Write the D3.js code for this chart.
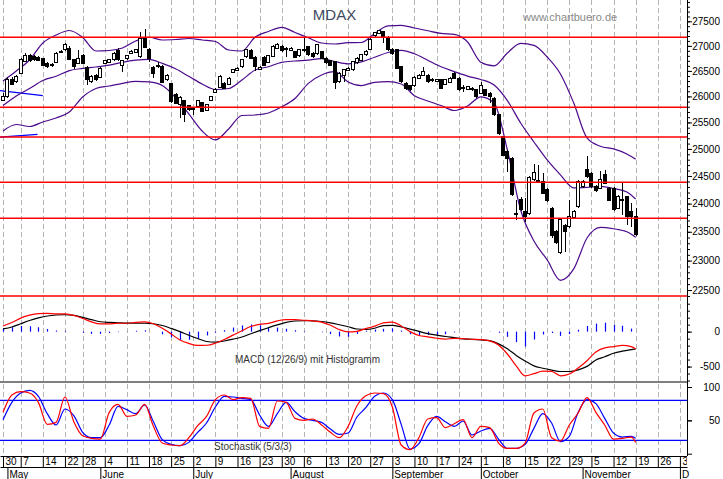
<!DOCTYPE html>
<html lang="en">
<head>
<meta charset="UTF-8">
<title>MDAX</title>
<script src="https://d3js.org/d3.v7.min.js"></script>
<style>
  body { margin: 0; background: #fff; }
  svg { display: block; font-family: "Liberation Sans", Arial, sans-serif; }
  .grid line { stroke: #b4b4b4; stroke-dasharray: 5,3; }
  .axis text { font-size: 10px; fill: #000; }
  .axis line, .axis path { stroke: #000; }
</style>
</head>
<body>
<script>
// trading calendar (Xetra days shown on the chart)
const firstDay = new Date(2018, 3, 30);
const holidays = ["2018-05-01", "2018-05-21"];
const dayCount = 155;
const monthNames = ["January", "February", "March", "April", "May", "June", "July",
  "August", "September", "October", "November", "December"];

// daily candles, 30 Apr - 19 Nov 2018
const open = [
  25930, 25991, 26340, 26287, 26453, 26685, 26797, 26783, 26770, 26737,
  26651, 26603, 26671, 26870, 26917, 26951, 26717, 26651, 26803, 26573,
  26287, 26419, 26374, 26651, 26671, 26717, 26903, 26603, 26743, 26851,
  26870, 26783, 27173, 26931, 26573, 26617, 26590, 26321, 26255, 26041,
  25834, 25917, 25815, 25782, 25802, 25879, 25725, 25930, 26079, 26176,
  26255, 26242, 26465, 26500, 26584, 26783, 26903, 26771, 26537, 26771,
  26671, 26783, 26951, 26984, 26950, 26910, 26883, 26803, 26920, 26984,
  26851, 26837, 26883, 26751, 26703, 26683, 26287, 26419, 26505, 26518,
  26657, 26703, 26817, 26931, 27200, 27255, 27288, 27173, 26931, 26917,
  26584, 26255, 26203, 26203, 26354, 26406, 26419, 26340, 26300, 26321,
  26242, 26275, 26439, 26354, 26180, 26139, 26160, 26125, 26060, 26125,
  26060, 25963, 25642, 25230, 24950, 24830, 23830, 24082, 23856, 23820,
  24427, 24410, 24397, 24258, 23916, 23503, 23148, 23603, 23585, 23754,
  23945, 24307, 24610, 24550, 24310, 24277, 24519, 24277, 24277, 23916,
  24080, 24123, 23856, 23767
];
const high = [
  26060, 26380, 26374, 26425, 26757, 26851, 26837, 26810, 26800, 26760,
  26680, 26660, 26880, 26920, 27052, 26990, 26740, 26917, 26830, 26600,
  26410, 26440, 26580, 26720, 26740, 26870, 26960, 26710, 26820, 26910,
  26940, 27290, 27340, 26960, 26600, 26670, 26610, 26440, 26270, 26060,
  26000, 25930, 25840, 25800, 25935, 25900, 25850, 26010, 26160, 26420,
  26280, 26370, 26540, 26570, 26740, 26940, 26930, 26790, 26600, 26800,
  26820, 27010, 27063, 27010, 26970, 26970, 26900, 26940, 27155, 27000,
  26870, 27040, 26900, 26770, 26720, 26700, 26470, 26540, 26570, 26700,
  26770, 26840, 26917, 27160, 27290, 27330, 27310, 27190, 26950, 26940,
  26600, 26280, 26230, 26400, 26440, 26571, 26440, 26360, 26350, 26340,
  26350, 26380, 26470, 26370, 26220, 26210, 26190, 26150, 26287, 26150,
  26080, 25990, 25660, 25250, 24980, 24850, 24064, 24120, 24100, 24500,
  24720, 24700, 24563, 24280, 23940, 23530, 23730, 23630, 24064, 23880,
  24420, 24420, 24868, 24570, 24340, 24590, 24610, 24300, 24300, 24160,
  24397, 24140, 24011, 23920
];
const low = [
  25911, 25976, 26222, 26271, 26439, 26667, 26677, 26700, 26690, 26600,
  26560, 26580, 26660, 26850, 26900, 26715, 26540, 26630, 26630, 26222,
  26260, 26300, 26360, 26630, 26650, 26700, 26700, 26480, 26720, 26830,
  26850, 26760, 26950, 26683, 26354, 26560, 26260, 26300, 25880, 25850,
  25578, 25514, 25720, 25642, 25790, 25690, 25710, 25910, 26065, 26165,
  26145, 26230, 26450, 26490, 26560, 26760, 26730, 26500, 26510, 26600,
  26650, 26770, 26930, 26880, 26783, 26890, 26750, 26780, 26870, 26800,
  26760, 26820, 26730, 26640, 26600, 26139, 26270, 26290, 26490, 26500,
  26640, 26690, 26800, 26920, 27180, 27240, 27065, 26900, 26817, 26530,
  26260, 26130, 26110, 26190, 26340, 26390, 26270, 26290, 26280, 26140,
  26220, 26260, 26340, 26100, 26080, 26120, 26110, 25970, 26040, 26000,
  25870, 25620, 25270, 24860, 24580, 24130, 23708, 23860, 23680, 23800,
  24400, 24380, 24170, 24030, 23400, 23290, 23113, 23150, 23560, 23730,
  23930, 24290, 24470, 24290, 24210, 24260, 24350, 24040, 23860, 23900,
  23797, 23620, 23585, 23430
];
const close = [
  25991, 26340, 26242, 26399, 26717, 26803, 26697, 26717, 26710, 26617,
  26584, 26637, 26851, 26885, 27018, 26731, 26583, 26737, 26651, 26321,
  26385, 26321, 26552, 26697, 26717, 26851, 26717, 26697, 26797, 26885,
  26917, 27153, 26964, 26750, 26453, 26583, 26275, 26419, 25898, 25866,
  25982, 25642, 25738, 25738, 25917, 25706, 25834, 25991, 26139, 26399,
  26157, 26354, 26518, 26548, 26717, 26917, 26751, 26584, 26558, 26617,
  26797, 26984, 27018, 26903, 26920, 26945, 26771, 26917, 26900, 26817,
  26783, 27018, 26751, 26663, 26617, 26275, 26453, 26518, 26552, 26683,
  26751, 26817, 26883, 27135, 27268, 27309, 27186, 26917, 26851, 26552,
  26287, 26157, 26139, 26374, 26419, 26485, 26287, 26310, 26330, 26157,
  26334, 26354, 26354, 26125, 26150, 26190, 26130, 25991, 26222, 26027,
  25991, 25642, 25294, 24887, 24826, 24156, 23797, 23886, 23767, 24478,
  24560, 24400, 24187, 24053, 23427, 23312, 23708, 23503, 23765, 23853,
  24398, 24398, 24488, 24307, 24234, 24427, 24367, 24064, 23886, 24135,
  24060, 23767, 23767, 23444
];

// Bollinger bands read every 3rd trading day
const bandIdx = d3.range(0, 142, 3).concat([143]);
const bandUpper = [
  26301, 26498, 26717, 27058, 27220, 27312, 27170, 26897, 26907, 26957,
  27099, 27174, 27119, 27129, 27149, 27119, 27089, 26917, 26897, 27180,
  27292, 27377, 27271, 27163, 27058, 27038, 27064, 27068, 27251, 27408,
  27418, 27363, 27306, 27253, 27232, 27078, 26671, 26598, 26857, 27050,
  27010, 26777, 26439, 25872, 25206, 25050, 25000, 24906, 24808
];
const bandMiddle = [
  25824, 26008, 26154, 26311, 26395, 26506, 26550, 26577, 26613, 26671,
  26713, 26731, 26649, 26542, 26393, 26242, 26135, 26154, 26321, 26518,
  26583, 26671, 26697, 26715, 26745, 26687, 26641, 26679, 26771, 26867,
  26911, 26841, 26711, 26581, 26486, 26397, 26331, 26222, 25920, 25489,
  25130, 24795, 24519, 24282, 24291, 24309, 24273, 24210, 24082
];
const bandLower = [
  25337, 25460, 25422, 25508, 25584, 25700, 25988, 26154, 26203, 26256,
  26295, 26282, 26212, 25974, 25661, 25337, 25168, 25375, 25632, 25642,
  25680, 25799, 25959, 26254, 26419, 26484, 26282, 26212, 26275, 26287,
  26242, 26015, 25911, 25824, 25728, 25815, 25992, 25872, 24980, 23886,
  23340, 23012, 22664, 22858, 23392, 23579, 23553, 23500, 23404
];

// MACD and stochastic read every 2nd trading day
const oscIdx = d3.range(0, 143, 2).concat([143]);
const macdLine = [
  80, 130, 194, 236, 258, 262, 254, 253, 232, 189,
  140, 110, 112, 120, 120, 133, 139, 113, 50, -34,
  -119, -169, -198, -195, -165, -113, -50, 13, 73, 105,
  118, 154, 173, 172, 163, 153, 136, 91, 30, -3,
  5, 44, 79, 126, 136, 82, 0, -55, -74, -95,
  -107, -97, -101, -110, -115, -133, -191, -320, -490, -633,
  -602, -565, -569, -632, -606, -520, -416, -290, -232, -214,
  -196, -215, -247
];
const signalLine = [
  40, 67, 113, 159, 196, 224, 238, 242, 233, 205,
  172, 142, 132, 127, 122, 120, 120, 113, 88, 46,
  0, -52, -99, -141, -150, -134, -108, -76, -30, 14,
  56, 96, 132, 152, 156, 155, 145, 126, 99, 70,
  38, 32, 49, 86, 89, 66, 37, 4, -28, -49,
  -70, -86, -104, -110, -118, -129, -175, -246, -340, -420,
  -490, -524, -550, -571, -571, -547, -497, -405, -360, -310,
  -280, -258, -248
];
const stochK = [
  62, 88, 93, 91, 77, 44, 47, 85, 48, 27,
  23, 22, 62, 74, 56, 58, 74, 41, 16, 13,
  12, 24, 42, 56, 81, 88, 81, 84, 83, 41,
  38, 79, 77, 53, 50, 52, 43, 32, 24, 41,
  72, 87, 91, 90, 70, 13, 6, 24, 52, 54,
  39, 45, 51, 24, 41, 39, 16, 8, 8, 16,
  61, 67, 24, 19, 43, 61, 84, 62, 43, 22,
  23, 25, 17
];
const stochD = [
  51, 77, 91, 95, 86, 60, 43, 67, 57, 32,
  24, 24, 43, 71, 66, 60, 73, 48, 21, 14,
  12, 17, 32, 46, 70, 86, 85, 83, 81, 58,
  41, 60, 77, 63, 53, 50, 47, 37, 29, 31,
  55, 69, 86, 91, 81, 44, 7, 15, 42, 56,
  48, 41, 49, 28, 34, 38, 22, 8, 8, 14,
  38, 60, 46, 18, 26, 62, 81, 75, 53, 31,
  25, 26, 23
];

// drawn support / resistance levels and old trend lines
const levels = [27175, 25790, 25225, 24385, 23740, 22400];
const trendLines = [
  [[-0.68, 26111], [9, 26014]],
  [[-0.68, 25222], [7.8, 25272]]
];

const priceTicks = [22500, 23000, 23500, 24000, 24500, 25000, 25500, 26000, 26500, 27000, 27500];
const macdTicks = [0, -500];
const stochTicks = [100, 50];
const stochLevels = [80, 20];

const width = 723, height = 479, axisX = 687;

// trading days
const fmt = d3.timeFormat("%Y-%m-%d");
const days = [];
for (let d = new Date(firstDay); days.length < dayCount; d.setDate(d.getDate() + 1)) {
  if (d.getDay() !== 0 && d.getDay() !== 6 && !holidays.includes(fmt(d))) days.push(new Date(d));
}
const weekIdx = days.map((d, i) => i).filter(i =>
  i === 0 || +d3.timeMonday.floor(days[i]) !== +d3.timeMonday.floor(days[i - 1]));
const monthIdx = days.map((d, i) => i).filter(i =>
  i > 0 && days[i].getMonth() !== days[i - 1].getMonth());

// scales
const x = d3.scaleLinear().domain([-0.68, 154.6]).range([0, axisX]);
const yPrice = d3.scaleLog().domain([22333, 27941]).range([300, 0]);
const yMacd = d3.scaleLinear().domain([-721, 453]).range([382, 300]);
const yStoch = d3.scaleLinear().domain([0, 100]).range([453.7, 387]);

const svg = d3.select("body").append("svg")
  .attr("width", width)
  .attr("height", height);

svg.append("defs").append("clipPath").attr("id", "plotclip")
  .append("rect").attr("x", 0).attr("y", 0).attr("width", axisX).attr("height", height);

// weekly dashed grid
svg.append("g").attr("class", "grid")
  .selectAll("line").data(weekIdx).join("line")
  .attr("x1", i => Math.round(x(i)) + 0.5)
  .attr("x2", i => Math.round(x(i)) + 0.5)
  .attr("y1", 0)
  .attr("y2", 455);

// old blue trend lines
svg.append("g").selectAll("line").data(trendLines).join("line")
  .attr("x1", d => x(d[0][0])).attr("y1", d => yPrice(d[0][1]))
  .attr("x2", d => x(d[1][0])).attr("y2", d => yPrice(d[1][1]))
  .attr("stroke", "#0000ff").attr("stroke-width", 1.3);

// Bollinger bands
const bandLine = d3.line().x(d => x(d.i)).y(d => yPrice(d.v)).curve(d3.curveMonotoneX);
[bandUpper, bandMiddle, bandLower].forEach(arr => {
  svg.append("path")
    .datum(bandIdx.map((i, k) => ({ i, v: arr[k] })))
    .attr("d", bandLine)
    .attr("fill", "none")
    .attr("stroke", "#4c0a8c")
    .attr("stroke-width", 1.2);
});

// candles
const candles = close.map((c, i) => ({ i, o: open[i], h: high[i], l: low[i], c }));
const cg = svg.append("g").attr("shape-rendering", "crispEdges");
cg.selectAll("line").data(candles).join("line")
  .attr("x1", d => Math.round(x(d.i)) + 0.5)
  .attr("x2", d => Math.round(x(d.i)) + 0.5)
  .attr("y1", d => yPrice(d.h))
  .attr("y2", d => yPrice(d.l))
  .attr("stroke", "#000");
cg.selectAll("rect").data(candles).join("rect")
  .attr("x", d => Math.round(x(d.i)) - 1.5)
  .attr("width", 3)
  .attr("y", d => yPrice(Math.max(d.o, d.c)))
  .attr("height", d => Math.max(1, yPrice(Math.min(d.o, d.c)) - yPrice(Math.max(d.o, d.c))))
  .attr("fill", d => d.c >= d.o ? "#fff" : "#000")
  .attr("stroke", "#000");

// horizontal red levels
svg.append("g").selectAll("line").data(levels).join("line")
  .attr("x1", 0).attr("x2", axisX)
  .attr("y1", d => yPrice(d)).attr("y2", d => yPrice(d))
  .attr("stroke", "#ff0000").attr("stroke-width", 1.6);

// MACD histogram and lines
const osc = oscIdx.map((i, k) => ({ i, m: macdLine[k], s: signalLine[k], k: stochK[k], d: stochD[k] }));
svg.append("g").selectAll("line").data(osc).join("line")
  .attr("x1", d => Math.round(x(d.i)) + 0.5)
  .attr("x2", d => Math.round(x(d.i)) + 0.5)
  .attr("y1", yMacd(0))
  .attr("y2", d => yMacd(d.m - d.s))
  .attr("stroke", "#0000ff")
  .attr("stroke-width", 1.2);

const oscLine = key => d3.line().x(d => x(d.i)).y(d => key(d)).curve(d3.curveMonotoneX);
svg.append("path").datum(osc).attr("d", oscLine(d => yMacd(d.s)))
  .attr("fill", "none").attr("stroke", "#000").attr("stroke-width", 1.2);
svg.append("path").datum(osc).attr("d", oscLine(d => yMacd(d.m)))
  .attr("fill", "none").attr("stroke", "#ff0000").attr("stroke-width", 1.2);

// stochastic
svg.append("g").selectAll("line").data(stochLevels).join("line")
  .attr("x1", 0).attr("x2", axisX)
  .attr("y1", d => yStoch(d)).attr("y2", d => yStoch(d))
  .attr("stroke", "#0000ff").attr("stroke-width", 1.3);
svg.append("path").datum(osc).attr("d", oscLine(d => yStoch(d.d)))
  .attr("fill", "none").attr("stroke", "#0000ff").attr("stroke-width", 1.2);
svg.append("path").datum(osc).attr("d", oscLine(d => yStoch(d.k)))
  .attr("fill", "none").attr("stroke", "#ff0000").attr("stroke-width", 1.2);

// panel separator and right axis line
svg.append("line").attr("x1", 0).attr("x2", axisX).attr("y1", 382).attr("y2", 382)
  .attr("stroke", "#000").attr("stroke-width", 1.2);
svg.append("line").attr("x1", axisX + 0.5).attr("x2", axisX + 0.5).attr("y1", 0).attr("y2", 456)
  .attr("stroke", "#000");

// right axes
function rightAxis(scale, values, size, labels) {
  const ax = d3.axisRight(scale).tickValues(values).tickSize(size)
    .tickFormat(labels ? (d => String(d)) : "");
  svg.append("g").attr("class", "axis").attr("transform", `translate(${axisX},0)`)
    .call(ax)
    .call(g => g.select(".domain").remove())
    .call(g => g.selectAll("text").attr("x", 33).attr("text-anchor", "end"));
}
rightAxis(yPrice, d3.range(22400, 27950, 100), 3, false);
rightAxis(yPrice, priceTicks, 5, true);
rightAxis(yMacd, d3.range(-700, 450, 100), 3, false);
rightAxis(yMacd, macdTicks, 5, true);
rightAxis(yStoch, [0, 50, 100], 5, false);
rightAxis(yStoch, stochTicks, 5, true);

// bottom date axes
const dayAxis = d3.axisBottom(x).tickValues(weekIdx).tickSize(11).tickSizeOuter(0)
  .tickFormat(i => days[i].getDate());
svg.append("g").attr("class", "axis").attr("transform", "translate(0,456)")
  .attr("clip-path", "url(#plotclip)")
  .call(dayAxis)
  .call(g => g.selectAll("text").attr("text-anchor", "start").attr("x", 2).attr("y", 2.2));

// the last month only has room for its initial before the axis
const monthAxis = d3.axisBottom(x).tickValues(monthIdx).tickSize(12).tickSizeOuter(0)
  .tickFormat(i => {
    const name = monthNames[days[i].getMonth()];
    return axisX - x(i) < 40 ? name[0] : name;
  });
svg.append("g").attr("class", "axis").attr("transform", "translate(0,467)")
  .call(monthAxis)
  .call(g => g.selectAll("text").attr("text-anchor", "start").attr("x", 1.5).attr("y", 4));

// texts
svg.append("text").attr("x", 334.5).attr("y", 20).attr("text-anchor", "middle")
  .attr("font-size", 15).attr("fill", "#404a60").text("MDAX");
svg.append("text").attr("x", 523).attr("y", 21)
  .attr("font-size", 11).attr("fill", "#8a8a8a").text("www.chartbuero.de");
svg.append("text").attr("x", 235).attr("y", 363)
  .attr("font-size", 10).attr("fill", "#333").text("MACD (12/26/9) mit Histogramm");
svg.append("text").attr("x", 214).attr("y", 450)
  .attr("font-size", 10).attr("fill", "#333").text("Stochastik (5/3/3)");
</script>
</body>
</html>
